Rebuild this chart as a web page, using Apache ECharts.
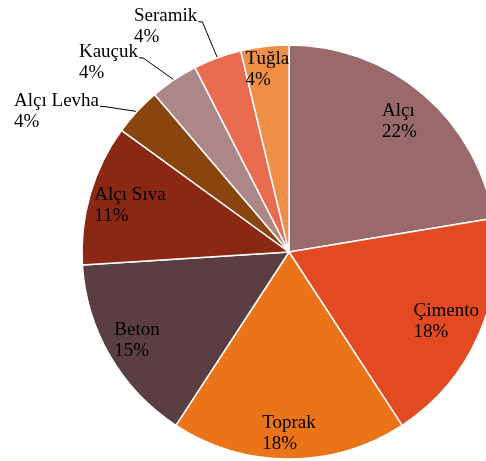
<!DOCTYPE html>
<html>
<head>
<meta charset="utf-8">
<script src="https://cdn.jsdelivr.net/npm/echarts@6/dist/echarts.min.js"></script>
<style>
  html, body { margin: 0; padding: 0; background: #ffffff; }
  #chart { width: 486px; height: 461px; }
</style>
</head>
<body>
<div id="chart"></div>
<script>
// malzeme payları (yüzde)
var categories = ["Alçı", "Çimento", "Toprak", "Beton", "Alçı Sıva", "Alçı Levha", "Kauçuk", "Seramik", "Tuğla"];
var shares = [22.4, 18.4, 18.4, 14.8, 11.0, 3.75, 3.75, 3.75, 3.75];

var colors = ["#9a6a6b", "#e44a21", "#ec7418", "#5b3e42", "#8b2813", "#8a440e", "#ad8787", "#ea6c50", "#ef8f47"];
// label placement: inside labels as a fraction of the radius, outside ones as offset from slice edge
var insideR = [0.825, 0.83, 0.875, 0.85, 0.80, 0, 0, 0, 0.89];
var outsideOffset = { 5: [-37, -5], 6: [-35, -22], 7: [-19, -36] };

var cx = 289, cy = 252, R = 207;
var total = shares.reduce(function (a, b) { return a + b; }, 0);

function midAngle(i) {
  var start = 0;
  for (var k = 0; k < i; k++) start += shares[k];
  return (start + shares[i] / 2) / total * 2 * Math.PI;
}

var chartObj = echarts.init(document.getElementById("chart"));
var option = {
  animation: false,
  backgroundColor: "#ffffff",
  series: [
    {
      type: "pie",
      center: [cx, cy],
      radius: R,
      startAngle: 90,
      clockwise: true,
      avoidLabelOverlap: false,
      itemStyle: {
        borderColor: "#ffffff",
        borderWidth: 1.5
      },
      label: {
        show: true,
        color: "#000000",
        fontFamily: "Liberation Serif",
        fontSize: 19,
        lineHeight: 21,
        formatter: function (p) {
          return p.name + "\n" + Math.round(p.percent) + "%";
        }
      },
      labelLine: {
        show: true,
        lineStyle: { color: "#000000", width: 1 }
      },
      labelLayout: function (p) {
        var i = p.dataIndex;
        var w = p.labelRect.width;
        var a = midAngle(i);
        if (insideR[i]) {
          var r = R * insideR[i];
          return {
            x: cx + r * Math.sin(a) - w / 2,
            y: cy - r * Math.cos(a),
            align: "left",
            verticalAlign: "middle"
          };
        }
        var ex = cx + R * Math.sin(a), ey = cy - R * Math.cos(a);
        var off = outsideOffset[i];
        var qx = ex + off[0], qy = ey + off[1];
        return {
          x: qx - w - 1,
          y: qy + 5,
          align: "left",
          verticalAlign: "middle",
          labelLinePoints: [[ex, ey], [qx + 4, qy], [qx, qy]]
        };
      },
      data: categories.map(function (name, i) {
        return {
          name: name,
          value: shares[i],
          itemStyle: { color: colors[i] },
          label: { position: insideR[i] ? "inside" : "outside" },
          labelLine: { show: !insideR[i] }
        };
      })
    }
  ]
};
chartObj.setOption(option);
window.addEventListener("resize", function () {
  chartObj.resize();
});
</script>
</body>
</html>
